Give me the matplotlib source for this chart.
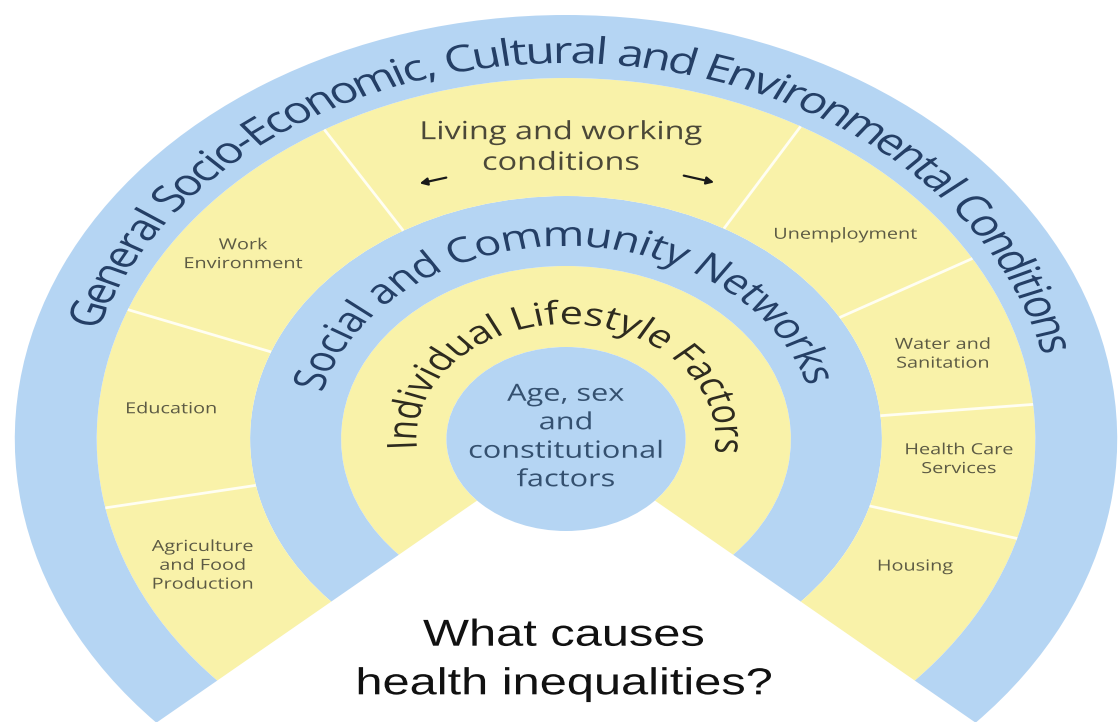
import numpy as np
import matplotlib
matplotlib.use("Agg")
import matplotlib.pyplot as plt
from matplotlib import patches, patheffects
from matplotlib.transforms import Affine2D
from matplotlib.font_manager import FontProperties, findfont, get_font

try:
    from matplotlib.ft2font import LoadFlags
    NO_HINT = LoadFlags.NO_HINTING
except ImportError:
    NO_HINT = 2

# %% data
# ring boundaries (inner disc, lifestyle, community, living/working, general)
RING_RADII = [92, 173, 243, 361, 424]
RING_COLOURS = ["#F9F2A9", "#B5D5F3", "#F9F2A9", "#B5D5F3"]
OPEN_FROM, OPEN_TO = -42, 222          # angles where the rainbow stops

# sectors of the "living and working conditions" ring, left to right
SECTOR_EDGES = [222, 191, 159, 121, 60, 30, 5.5, -16, -42]
SECTOR_LABELS = ["Agriculture\nand Food\nProduction", "Education",
                 "Work\nEnvironment", None, "Unemployment",
                 "Water and\nSanitation", "Health Care\nServices", "Housing"]

RING_TITLES = ["Individual Lifestyle Factors",
               "Social and Community Networks",
               "General Socio-Economic, Cultural and Environmental Conditions"]
CORE_LABEL = "Age, sex\nand\nconstitutional\nfactors"
LIVING_LABEL = "Living and working\nconditions"
QUESTION = "What causes\nhealth inequalities?"

# %% layout
W, H, DPI = 1118, 722, 100
CX, CY = 566, 439      # centre of rings in picture pixels
SX = 1.3               # picture is stretched sideways
BLUE = "#B5D5F3"
SANS = "Open Sans"
NAVY = "#243F66"
# where each sector label sits (angle, radius), same order as SECTOR_LABELS
LABEL_POLAR = [(204.5, 307), (174.5, 305), (143.5, 309), None, (43.5, 296),
               (16.2, 302), (-4, 303), (-25.5, 297.5)]

fig = plt.figure(figsize=(W / DPI, H / DPI), dpi=DPI)
ax = fig.add_axes([0, 0, 1, 1])
ax.set_xlim(-CX / SX, (W - CX) / SX)
ax.set_ylim(CY - H, CY)
ax.axis("off")


class Widen(patheffects.AbstractPathEffect):
    """stretch glyphs sideways around their anchor, like the rest of the picture"""
    def __init__(self, x0, sx):
        super().__init__()
        self._x0 = x0
        self._sx = sx

    def draw_path(self, renderer, gc, tpath, affine, rgbFace=None):
        st = Affine2D().translate(-self._x0, 0).scale(self._sx, 1).translate(self._x0, 0)
        renderer.draw_path(gc, tpath, affine + st, rgbFace)


def put_text(x, y, s, **kw):
    t = ax.text(x, y, s, **kw)
    x0 = ax.transData.transform((x, y))[0]
    t.set_path_effects([Widen(x0, SX)])
    return t


def arc_text(s, r, a0, a1, size, color):
    prop = FontProperties(family=SANS, size=size)
    font = get_font(findfont(prop))
    font.set_size(size, DPI)
    adv = np.array([font.load_char(ord(c), flags=NO_HINT).linearHoriAdvance / 65536.0
                    for c in s])
    mid = np.cumsum(adv) - adv / 2
    ang = a0 + (a1 - a0) * mid / adv.sum()
    for c, a in zip(s, ang):
        if c == " ":
            continue
        t = np.radians(a)
        put_text(r * np.cos(t), r * np.sin(t), c, rotation=a - 90,
                 rotation_mode="anchor", ha="center", va="baseline",
                 fontsize=size, color=color, family=SANS)


# rings
for i, col in enumerate(RING_COLOURS):
    r_in, r_out = RING_RADII[i], RING_RADII[i + 1]
    ax.add_patch(patches.Wedge((0, 0), r_out, OPEN_FROM, OPEN_TO, width=r_out - r_in,
                               facecolor=col, edgecolor="none"))
ax.add_patch(patches.Circle((0, 0), RING_RADII[0], facecolor=BLUE, edgecolor="none"))

# sector dividers
r1, r2 = RING_RADII[2], RING_RADII[3]
for a in SECTOR_EDGES[1:-1]:
    t = np.radians(a)
    ax.plot([r1 * np.cos(t), r2 * np.cos(t)], [r1 * np.sin(t), r2 * np.sin(t)],
            color="#FFFEF2", lw=2, solid_capstyle="butt")

# sector labels
for lab, pos in zip(SECTOR_LABELS, LABEL_POLAR):
    if lab is None:
        continue
    t, r_lab = np.radians(pos[0]), pos[1]
    put_text(r_lab * np.cos(t), r_lab * np.sin(t), lab, ha="center", va="center",
             multialignment="center", fontsize=11, color="#5C5A44", family=SANS,
             linespacing=1.35)

put_text(-4, 291, LIVING_LABEL, ha="center", va="center", multialignment="center",
         fontsize=18, color="#4B4838", family=SANS, linespacing=1.3)
for tail, head in [((-90, 262), (-114.6, 255)), ((88.5, 264), (116, 256))]:
    ax.add_patch(patches.FancyArrowPatch(tail, head, arrowstyle="-|>", mutation_scale=11,
                                         lw=1.6, color="#1A1A1A"))

# curved ring titles
arc_text(RING_TITLES[0], 115, 185, -7, 23, "#2E2B1F")
arc_text(RING_TITLES[1], 193, 166, 16, 25, NAVY)
arc_text(RING_TITLES[2], 376, 163, 13, 26.5, NAVY)

put_text(0, 1.5, CORE_LABEL, ha="center", va="center", multialignment="center",
         fontsize=17, color="#34506F", family=SANS, linespacing=1.25)

put_text(-1.5, -221, QUESTION, ha="center", va="center", multialignment="center",
         fontsize=27, color="#111111", family="Liberation Sans", linespacing=1.45)

fig.savefig("out.png", dpi=DPI, facecolor="white")
